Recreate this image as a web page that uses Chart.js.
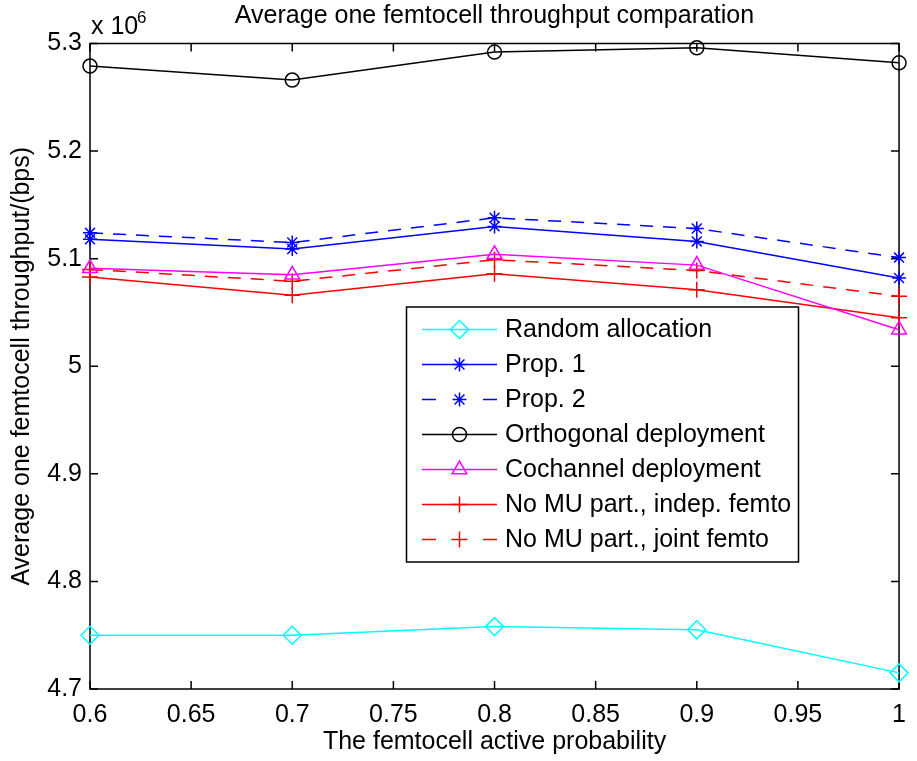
<!DOCTYPE html>
<html>
<head>
<meta charset="utf-8">
<script src="https://cdn.jsdelivr.net/npm/chart.js@4.4.1/dist/chart.umd.min.js"></script>
<style>
  html, body { margin: 0; padding: 0; background: #fff; }
  #wrap { width: 917px; height: 761px; }
</style>
</head>
<body>
<div id="wrap"><canvas id="chart" width="917" height="761"></canvas></div>
<script>
// values, in units of 10^6 bps
const probabilities = [0.6, 0.7, 0.8, 0.9, 1.0];
const randomAlloc = [4.750, 4.750, 4.758, 4.755, 4.715];
const prop1 = [5.118, 5.109, 5.130, 5.116, 5.082];
const prop2 = [5.124, 5.115, 5.138, 5.128, 5.101];
const orthogonal = [5.279, 5.266, 5.292, 5.296, 5.282];
const cochannel = [5.091, 5.085, 5.104, 5.094, 5.034];
const noMuIndep = [5.083, 5.066, 5.086, 5.071, 5.045];
const noMuJoint = [5.090, 5.079, 5.099, 5.089, 5.065];

const xTicks = [0.6, 0.65, 0.7, 0.75, 0.8, 0.85, 0.9, 0.95, 1];
const xTickLabels = ['0.6', '0.65', '0.7', '0.75', '0.8', '0.85', '0.9', '0.95', '1'];
const yTicks = [4.7, 4.8, 4.9, 5.0, 5.1, 5.2, 5.3];
const yTickLabels = ['4.7', '4.8', '4.9', '5', '5.1', '5.2', '5.3'];

const FONT = "'Liberation Sans', Arial, Helvetica, sans-serif";
Chart.defaults.font.family = FONT;
Chart.defaults.font.size = 25;
Chart.defaults.color = '#000';

function series(label, values, color, pointStyle, radius, dashed) {
  return {
    label: label,
    data: values.map((v, i) => ({ x: probabilities[i], y: v })),
    borderColor: color,
    backgroundColor: 'rgba(0,0,0,0)',
    pointBackgroundColor: 'rgba(0,0,0,0)',
    pointBorderColor: color,
    pointStyle: pointStyle,
    pointRadius: radius,
    pointBorderWidth: 1.5,
    borderWidth: 1.5,
    borderDash: dashed ? [13, 10] : [],
    tension: 0,
    clip: false,
    dashed: dashed
  };
}

const datasets = [
  series('Random allocation', randomAlloc, '#00ffff', 'rectRot', 9, false),
  series('Prop. 1', prop1, '#0000ff', 'star', 7, false),
  series('Prop. 2', prop2, '#0000ff', 'star', 7, true),
  series('Orthogonal deployment', orthogonal, '#000000', 'circle', 7, false),
  series('Cochannel deployment', cochannel, '#ff00ff', 'triangle', 8.5, false),
  series('No MU part., indep. femto', noMuIndep, '#ff0000', 'cross', 8, false),
  series('No MU part., joint femto', noMuJoint, '#ff0000', 'cross', 8, true)
];

// axes box with inward ticks on all four sides
const framePlugin = {
  id: 'frame',
  beforeDatasetsDraw(chart) {
    const { ctx, chartArea: a, scales } = chart;
    ctx.save();
    ctx.strokeStyle = '#000';
    ctx.lineWidth = 1.5;
    ctx.strokeRect(a.left, a.top, a.right - a.left, a.bottom - a.top);
    ctx.beginPath();
    xTicks.forEach(v => {
      const x = scales.x.getPixelForValue(v);
      ctx.moveTo(x, a.bottom); ctx.lineTo(x, a.bottom - 8);
      ctx.moveTo(x, a.top); ctx.lineTo(x, a.top + 8);
    });
    yTicks.forEach(v => {
      const y = scales.y.getPixelForValue(v);
      ctx.moveTo(a.left, y); ctx.lineTo(a.left + 8, y);
      ctx.moveTo(a.right, y); ctx.lineTo(a.right - 8, y);
    });
    ctx.stroke();
    ctx.restore();
  },
  afterDraw(chart) {
    const { ctx, chartArea: a } = chart;
    // exponent label
    ctx.save();
    ctx.fillStyle = '#000';
    ctx.textBaseline = 'alphabetic';
    ctx.textAlign = 'left';
    ctx.font = '25px ' + FONT;
    ctx.fillText('x 10', a.left + 1, 34);
    ctx.font = '17px ' + FONT;
    ctx.fillText('6', a.left + 47, 23);
    ctx.restore();

    // legend box
    const box = { x: 406.5, y: 307, w: 392, h: 255 };
    ctx.save();
    ctx.fillStyle = '#fff';
    ctx.fillRect(box.x, box.y, box.w, box.h);
    ctx.strokeStyle = '#000';
    ctx.lineWidth = 1.5;
    ctx.strokeRect(box.x, box.y, box.w, box.h);
    chart.data.datasets.forEach((ds, i) => {
      const y = box.y + 22.5 + i * 35;
      const x0 = 422, x1 = 497, xm = (x0 + x1) / 2;
      ctx.strokeStyle = ds.borderColor;
      ctx.lineWidth = ds.borderWidth;
      ctx.beginPath();
      if (ds.dashed) {
        ctx.moveTo(x0, y); ctx.lineTo(x0 + 14, y);
        ctx.moveTo(x1 - 14, y); ctx.lineTo(x1, y);
      } else {
        ctx.moveTo(x0, y); ctx.lineTo(x1, y);
      }
      ctx.stroke();
      ctx.fillStyle = 'rgba(0,0,0,0)';
      Chart.helpers.drawPoint(ctx, {
        pointStyle: ds.pointStyle,
        radius: ds.pointRadius,
        borderWidth: ds.pointBorderWidth,
        rotation: 0
      }, xm, y);
      ctx.fillStyle = '#000';
      ctx.font = '25px ' + FONT;
      ctx.textAlign = 'left';
      ctx.textBaseline = 'middle';
      ctx.fillText(ds.label, 505, y + 1);
    });
    ctx.restore();
  }
};

new Chart(document.getElementById('chart'), {
  type: 'line',
  data: { datasets: datasets },
  options: {
    responsive: false,
    animation: false,
    devicePixelRatio: 1,
    layout: { padding: { left: 0, right: 8, top: 0, bottom: 0 } },
    plugins: {
      legend: { display: false },
      tooltip: { enabled: false },
      title: {
        display: true,
        fullSize: false,
        text: 'Average one femtocell throughput comparation',
        font: { size: 25, weight: 'normal', lineHeight: 1.2 },
        color: '#000',
        padding: { top: 1, bottom: 12.5 }
      }
    },
    scales: {
      x: {
        type: 'linear',
        min: 0.6,
        max: 1,
        grid: { display: false, drawTicks: false },
        border: { display: false },
        afterBuildTicks: s => { s.ticks = xTicks.map(v => ({ value: v })); },
        afterFit: s => { s.height = 72; },
        ticks: {
          autoSkip: false,
          maxRotation: 0,
          padding: 11,
          callback: (v, i) => xTickLabels[i]
        },
        title: {
          display: true,
          text: 'The femtocell active probability',
          font: { size: 25, lineHeight: 1.2 },
          padding: { top: 0, bottom: 4 }
        }
      },
      y: {
        type: 'linear',
        min: 4.7,
        max: 5.3,
        grid: { display: false, drawTicks: false },
        border: { display: false },
        afterBuildTicks: s => { s.ticks = yTicks.map(v => ({ value: v })); },
        afterFit: s => { s.width = 90; },
        ticks: {
          autoSkip: false,
          padding: 8,
          callback: (v, i) => yTickLabels[i]
        },
        title: {
          display: true,
          text: 'Average one femtocell throughput/(bps)',
          font: { size: 25, lineHeight: 1.2 },
          padding: { top: 7, bottom: 0 }
        }
      }
    }
  },
  plugins: [framePlugin]
});
</script>
</body>
</html>
